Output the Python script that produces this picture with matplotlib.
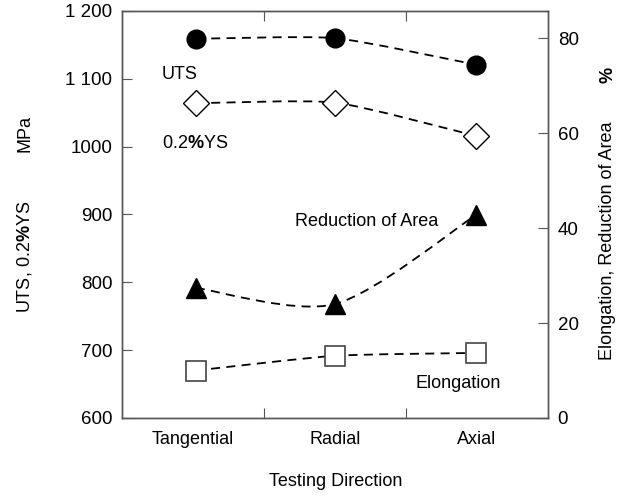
import matplotlib
matplotlib.use("Agg")
import matplotlib.pyplot as plt
from matplotlib.path import Path
from matplotlib.patches import PathPatch
import numpy as np

plt.rcParams['font.family'] = ['Liberation Sans', 'DejaVu Sans']
plt.rcParams['mathtext.fontset'] = 'custom'
plt.rcParams['mathtext.rm'] = 'Liberation Sans'
plt.rcParams['mathtext.bf'] = 'Liberation Sans:bold'

categories = ['Tangential', 'Radial', 'Axial']
uts = [1159, 1160, 1121]
ys = [1064, 1065, 1016]
reduction_area = [27.4, 24.0, 42.7]
elongation = [10.0, 13.1, 13.7]

W, H = 629, 497
fig = plt.figure(figsize=(W / 100, H / 100), dpi=100)
ax = fig.add_axes([122 / W, 1 - 418 / H, (548 - 122) / W, (418 - 11) / H])
ax2 = ax.twinx()

xpos = np.array([0.52, 1.5, 2.49])
FS = 13
TFS = 13.5


def smooth_dashed(a, xs, ys_, k=10.0):
    xs = np.asarray(xs, float)
    ys_ = np.asarray(ys_, float)
    n = len(xs)
    verts = [(xs[0], ys_[0])]
    codes = [Path.MOVETO]
    for i in range(n - 1):
        p0 = (xs[max(i - 1, 0)], ys_[max(i - 1, 0)])
        p1 = (xs[i], ys_[i])
        p2 = (xs[i + 1], ys_[i + 1])
        p3 = (xs[min(i + 2, n - 1)], ys_[min(i + 2, n - 1)])
        c1 = (p1[0] + (p2[0] - p0[0]) / k, p1[1] + (p2[1] - p0[1]) / k)
        c2 = (p2[0] - (p3[0] - p1[0]) / k, p2[1] - (p3[1] - p1[1]) / k)
        verts += [c1, c2, p2]
        codes += [Path.CURVE4] * 3
    patch = PathPatch(Path(verts, codes), fill=False, edgecolor='black',
                      linewidth=1.3, linestyle=(0, (5, 3.5)), zorder=2)
    a.add_patch(patch)


smooth_dashed(ax, xpos, uts)
smooth_dashed(ax, xpos, ys)
smooth_dashed(ax2, xpos, reduction_area, k=7.0)
smooth_dashed(ax2, xpos, elongation)

ax.plot(xpos, uts, linestyle='none', marker='o', markersize=13.5,
        markerfacecolor='black', markeredgecolor='black', zorder=3)
ax.plot(xpos, ys, linestyle='none', marker='D', markersize=13.5,
        markerfacecolor='white', markeredgecolor='black', markeredgewidth=1.0, zorder=3)
ax2.plot(xpos, reduction_area, linestyle='none', marker='^', markersize=15,
         markerfacecolor='black', markeredgecolor='black', zorder=3)
ax2.plot(xpos, elongation, linestyle='none', marker='s', markersize=14,
         markerfacecolor='white', markeredgecolor='#444444', markeredgewidth=1.2, zorder=3)

ax.set_xlim(0, 3)
ax.set_ylim(600, 1200)
ax2.set_ylim(0, 85.7)

ax.set_yticks([600, 700, 800, 900, 1000, 1100, 1200])
ax.set_yticklabels(['600', '700', '800', '900', '1000', '1 100', '1 200'])
ax2.set_yticks([0, 20, 40, 60, 80])

ax.set_xticks([1, 2])
ax.set_xticklabels([])
ax.set_xticks([0.5, 1.5, 2.5], minor=True)
ax.set_xticklabels(categories, minor=True)

spine_color = '#555555'
for a in (ax, ax2):
    for s in a.spines.values():
        s.set_color(spine_color)
        s.set_linewidth(1.0)

ax.tick_params(axis='y', direction='in', length=7, color=spine_color,
               labelsize=TFS, pad=7)
ax2.tick_params(axis='y', direction='in', length=7, color=spine_color,
                labelsize=TFS, pad=7)
ax.tick_params(axis='x', which='major', direction='in', length=7,
               color=spine_color, top=True, bottom=True)
ax.tick_params(axis='x', which='minor', length=0, labelsize=FS, pad=9)

ax.text(0.28, 1106, 'UTS', fontsize=FS, ha='left', va='center')
ax.text(0.28, 1005, r'0.2$\mathbf{\%}$YS', fontsize=FS, ha='left', va='center')
ax2.text(1.22, 41.3, 'Reduction of Area', fontsize=FS, ha='left', va='center')
ax2.text(2.07, 7.2, 'Elongation', fontsize=FS, ha='left', va='center')

fig.text(25 / W, 1 - 257 / H, r'UTS, 0.2$\mathbf{\%}$YS', rotation=90,
         fontsize=FS, ha='center', va='center')
fig.text(25 / W, 1 - 133 / H, 'MPa', rotation=90,
         fontsize=FS, ha='center', va='center')
fig.text(608 / W, 1 - 241 / H, 'Elongation, Reduction of Area', rotation=90,
         fontsize=FS, ha='center', va='center')
fig.text(608 / W, 1 - 75 / H, '%', rotation=90, fontweight='bold',
         fontsize=FS, ha='center', va='center')
fig.text(336 / W, 1 - 481 / H, 'Testing Direction', fontsize=FS,
         ha='center', va='center')

fig.savefig('out.png', dpi=100)
